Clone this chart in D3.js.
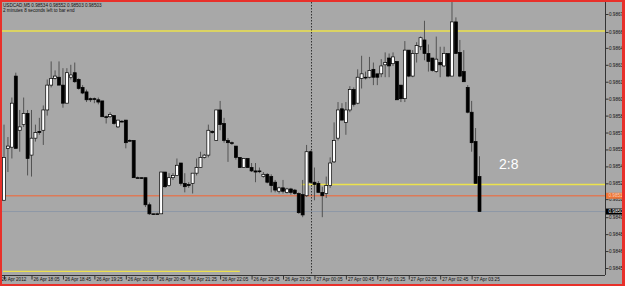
<!DOCTYPE html>
<html>
<head>
<meta charset="utf-8">
<script src="https://cdnjs.cloudflare.com/ajax/libs/d3/7.8.5/d3.min.js"></script>
<style>
  html, body { margin: 0; padding: 0; background: #a8a8a8; }
  svg { display: block; }
  text { font-family: "Liberation Sans", Arial, sans-serif; }
</style>
</head>
<body>
<div id="chart"></div>
<script>
var width = 625;
var height = 286;

// USDCAD M5, one entry per bar starting 26 Apr 2012 17:30
var opens = [
  0.98513, 0.98559, 0.98560, 0.98623, 0.98575, 0.98580, 0.98590, 0.98553, 0.98568, 0.98574,
  0.98575, 0.98593, 0.98615, 0.98621, 0.98622, 0.98615, 0.98599, 0.98622, 0.98626, 0.98620,
  0.98613, 0.98609, 0.98603, 0.98603, 0.98602, 0.98601, 0.98587, 0.98587, 0.98588, 0.98578,
  0.98583, 0.98584, 0.98566, 0.98566, 0.98533, 0.98533, 0.98533, 0.98509, 0.98501, 0.98501,
  0.98501, 0.98538, 0.98526, 0.98533, 0.98535, 0.98546, 0.98528, 0.98526, 0.98528, 0.98537,
  0.98542, 0.98551, 0.98553, 0.98573, 0.98566, 0.98593, 0.98581, 0.98566, 0.98564, 0.98561,
  0.98551, 0.98542, 0.98550, 0.98542, 0.98539, 0.98539, 0.98534, 0.98536, 0.98534, 0.98529,
  0.98521, 0.98524, 0.98520, 0.98523, 0.98522, 0.98519, 0.98518, 0.98517, 0.98556, 0.98529,
  0.98528, 0.98520, 0.98519, 0.98526, 0.98547, 0.98568, 0.98594, 0.98582, 0.98593, 0.98611,
  0.98599, 0.98621, 0.98622, 0.98622, 0.98629, 0.98625, 0.98625, 0.98633, 0.98639, 0.98634,
  0.98636, 0.98615, 0.98603, 0.98646, 0.98623, 0.98643, 0.98649, 0.98655, 0.98643, 0.98639,
  0.98627, 0.98635, 0.98632, 0.98643, 0.98623, 0.98671, 0.98644, 0.98627, 0.98613, 0.98591,
  0.98565, 0.98534
];
var highs = [
  0.98580, 0.98569, 0.98604, 0.98626, 0.98593, 0.98604, 0.98593, 0.98593, 0.98580, 0.98586,
  0.98597, 0.98620, 0.98636, 0.98628, 0.98636, 0.98630, 0.98630, 0.98633, 0.98635, 0.98621,
  0.98615, 0.98611, 0.98604, 0.98604, 0.98604, 0.98601, 0.98588, 0.98591, 0.98588, 0.98584,
  0.98584, 0.98584, 0.98567, 0.98566, 0.98534, 0.98533, 0.98533, 0.98511, 0.98501, 0.98502,
  0.98538, 0.98538, 0.98537, 0.98537, 0.98550, 0.98546, 0.98537, 0.98529, 0.98537, 0.98550,
  0.98556, 0.98554, 0.98580, 0.98575, 0.98593, 0.98601, 0.98586, 0.98568, 0.98565, 0.98561,
  0.98551, 0.98550, 0.98550, 0.98546, 0.98546, 0.98542, 0.98538, 0.98537, 0.98536, 0.98531,
  0.98525, 0.98531, 0.98524, 0.98524, 0.98523, 0.98520, 0.98531, 0.98562, 0.98557, 0.98542,
  0.98530, 0.98525, 0.98534, 0.98551, 0.98582, 0.98600, 0.98599, 0.98600, 0.98614, 0.98613,
  0.98629, 0.98641, 0.98627, 0.98640, 0.98635, 0.98625, 0.98638, 0.98644, 0.98643, 0.98644,
  0.98636, 0.98615, 0.98654, 0.98646, 0.98646, 0.98653, 0.98658, 0.98672, 0.98651, 0.98639,
  0.98658, 0.98649, 0.98649, 0.98643, 0.98692, 0.98675, 0.98655, 0.98646, 0.98615, 0.98601,
  0.98577, 0.98552
];
var lows = [
  0.98513, 0.98538, 0.98550, 0.98559, 0.98556, 0.98578, 0.98535, 0.98534, 0.98565, 0.98571,
  0.98562, 0.98588, 0.98613, 0.98620, 0.98615, 0.98595, 0.98599, 0.98620, 0.98617, 0.98611,
  0.98607, 0.98600, 0.98600, 0.98599, 0.98598, 0.98587, 0.98581, 0.98586, 0.98580, 0.98577,
  0.98582, 0.98559, 0.98565, 0.98533, 0.98533, 0.98532, 0.98507, 0.98500, 0.98500, 0.98501,
  0.98501, 0.98524, 0.98525, 0.98531, 0.98535, 0.98526, 0.98520, 0.98524, 0.98519, 0.98535,
  0.98542, 0.98550, 0.98551, 0.98572, 0.98566, 0.98575, 0.98564, 0.98547, 0.98562, 0.98549,
  0.98542, 0.98542, 0.98542, 0.98538, 0.98529, 0.98537, 0.98533, 0.98528, 0.98520, 0.98520,
  0.98519, 0.98519, 0.98519, 0.98518, 0.98518, 0.98501, 0.98498, 0.98516, 0.98528, 0.98513,
  0.98520, 0.98498, 0.98515, 0.98524, 0.98546, 0.98566, 0.98584, 0.98571, 0.98591, 0.98596,
  0.98598, 0.98612, 0.98620, 0.98621, 0.98615, 0.98615, 0.98622, 0.98622, 0.98622, 0.98632,
  0.98602, 0.98600, 0.98600, 0.98622, 0.98622, 0.98635, 0.98646, 0.98637, 0.98627, 0.98627,
  0.98626, 0.98622, 0.98631, 0.98622, 0.98623, 0.98643, 0.98622, 0.98618, 0.98590, 0.98556,
  0.98528, 0.98503
];
var closes = [
  0.98551, 0.98561, 0.98599, 0.98559, 0.98578, 0.98590, 0.98550, 0.98568, 0.98573, 0.98573,
  0.98593, 0.98615, 0.98621, 0.98623, 0.98615, 0.98599, 0.98626, 0.98624, 0.98618, 0.98612,
  0.98608, 0.98602, 0.98602, 0.98603, 0.98600, 0.98587, 0.98587, 0.98589, 0.98581, 0.98584,
  0.98583, 0.98564, 0.98566, 0.98533, 0.98533, 0.98533, 0.98509, 0.98501, 0.98501, 0.98501,
  0.98538, 0.98525, 0.98533, 0.98535, 0.98544, 0.98528, 0.98525, 0.98527, 0.98537, 0.98542,
  0.98551, 0.98553, 0.98575, 0.98574, 0.98593, 0.98580, 0.98566, 0.98564, 0.98564, 0.98551,
  0.98542, 0.98550, 0.98542, 0.98539, 0.98538, 0.98539, 0.98536, 0.98529, 0.98526, 0.98522,
  0.98524, 0.98521, 0.98523, 0.98520, 0.98519, 0.98502, 0.98500, 0.98556, 0.98529, 0.98527,
  0.98520, 0.98517, 0.98526, 0.98546, 0.98566, 0.98593, 0.98584, 0.98593, 0.98611, 0.98598,
  0.98622, 0.98625, 0.98622, 0.98628, 0.98622, 0.98622, 0.98632, 0.98635, 0.98632, 0.98640,
  0.98602, 0.98603, 0.98646, 0.98623, 0.98643, 0.98650, 0.98657, 0.98643, 0.98636, 0.98628,
  0.98638, 0.98633, 0.98643, 0.98623, 0.98671, 0.98643, 0.98623, 0.98618, 0.98591, 0.98564,
  0.98528, 0.98503
];

var yTicks = [0.98678, 0.98662, 0.98648, 0.98633, 0.98618, 0.98603, 0.98588, 0.98573,
              0.98558, 0.98543, 0.98528, 0.98514, 0.98498, 0.98483, 0.98468, 0.98453];
var xTickBars = [0, 7, 15, 23, 31, 39, 47, 55, 63, 71, 79, 87, 95, 103, 111, 119];
var xTickLabels = ["26 Apr 2012", "26 Apr 18:05", "26 Apr 18:45", "26 Apr 19:25", "26 Apr 20:05",
                   "26 Apr 20:45", "26 Apr 21:25", "26 Apr 22:05", "26 Apr 22:45", "26 Apr 23:25",
                   "27 Apr 00:05", "27 Apr 00:45", "27 Apr 01:25", "27 Apr 02:05", "27 Apr 02:45",
                   "27 Apr 03:25"];

// drawn objects: horizontal levels, trend lines, day separator, price labels
var hLevels = [0.98663, 0.98517];
var hLevelColors = ["#ece24c", "#dc7a58"];
var trendFrom = [76, 0];
var trendTo = [121, 60];
var trendPrice = [0.98527, 0.98450];
var separatorBar = 78;
var bidPrice = 0.98503;

var plot = { left: 2, top: 2, right: 605, bottom: 275 };

var svg = d3.select("#chart")
  .append("svg")
  .attr("width", width)
  .attr("height", height);

svg.append("rect")
  .attr("width", width)
  .attr("height", height)
  .attr("fill", "#a8a8a8");

var xScale = d3.scaleLinear()
  .domain([0, 121])
  .range([4, 479.5]);

var yScale = d3.scaleLinear()
  .domain([0.98453, 0.98678])
  .range([268, 14]);

svg.append("clipPath")
  .attr("id", "plotclip")
  .append("rect")
  .attr("x", plot.left)
  .attr("y", plot.top)
  .attr("width", plot.right - plot.left)
  .attr("height", plot.bottom - plot.top);

var chartGroup = svg.append("g").attr("clip-path", "url(#plotclip)");

// lines behind the bars
chartGroup.selectAll(".hlevel")
  .data(hLevels)
  .enter().append("line")
  .attr("x1", plot.left)
  .attr("x2", plot.right)
  .attr("y1", d => yScale(d))
  .attr("y2", d => yScale(d))
  .attr("stroke", (d, i) => hLevelColors[i])
  .attr("stroke-width", 1.4);

chartGroup.append("line")
  .attr("x1", plot.left)
  .attr("x2", plot.right)
  .attr("y1", yScale(bidPrice))
  .attr("y2", yScale(bidPrice))
  .attr("stroke", "#8d98a6")
  .attr("stroke-width", 1);

for (var t = 0; t < trendPrice.length; t++) {
  chartGroup.append("line")
    .attr("x1", xScale(trendFrom[t]) - 1)
    .attr("x2", t == 0 ? plot.right : xScale(trendTo[t]))
    .attr("y1", yScale(trendPrice[t]))
    .attr("y2", yScale(trendPrice[t]))
    .attr("stroke", "#ece24c")
    .attr("stroke-width", 1.4);
}

chartGroup.append("line")
  .attr("x1", Math.round(xScale(separatorBar)) + 0.5)
  .attr("x2", Math.round(xScale(separatorBar)) + 0.5)
  .attr("y1", plot.top)
  .attr("y2", plot.bottom)
  .attr("stroke", "#333")
  .attr("stroke-dasharray", "1.5,1.5");

// candles
for (var i = 0; i < opens.length; i++) {
  var cx = xScale(i);
  var up = closes[i] >= opens[i];
  var bodyTop = yScale(Math.max(opens[i], closes[i]));
  var bodyBot = yScale(Math.min(opens[i], closes[i]));

  chartGroup.append("line")
    .attr("x1", cx)
    .attr("x2", cx)
    .attr("y1", yScale(highs[i]))
    .attr("y2", yScale(lows[i]))
    .attr("stroke", "#4a4a4a")
    .attr("stroke-width", 0.9);

  chartGroup.append("rect")
    .attr("x", cx - 1.5)
    .attr("y", bodyTop)
    .attr("width", 3)
    .attr("height", Math.max(bodyBot - bodyTop, 0.8))
    .attr("fill", up && bodyBot - bodyTop > 1.5 ? "#fff" : "#000")
    .attr("stroke", "#000")
    .attr("stroke-width", 0.7);
}

// frame
svg.append("line")
  .attr("x1", plot.right + 0.5).attr("x2", plot.right + 0.5)
  .attr("y1", plot.top).attr("y2", plot.bottom)
  .attr("stroke", "#333");
svg.append("line")
  .attr("x1", plot.left).attr("x2", plot.right)
  .attr("y1", plot.bottom + 0.5).attr("y2", plot.bottom + 0.5)
  .attr("stroke", "#333");

var yAxis = d3.axisRight(yScale)
  .tickValues(yTicks)
  .tickSize(3)
  .tickFormat(d3.format(".5f"));

var yAxisG = svg.append("g")
  .attr("transform", `translate(${plot.right + 0.5}, 0)`)
  .call(yAxis);
yAxisG.select(".domain").remove();
yAxisG.selectAll("line").attr("stroke", "#333");
yAxisG.selectAll("text")
  .attr("x", 3.5)
  .style("font-size", "4.6px")
  .style("font-family", "Liberation Sans, Arial, sans-serif")
  .attr("fill", "#111");

var xAxis = d3.axisBottom(xScale)
  .tickValues(xTickBars)
  .tickSize(4)
  .tickFormat((d, i) => xTickLabels[i]);

var xAxisG = svg.append("g")
  .attr("transform", `translate(0, ${plot.bottom + 0.5})`)
  .call(xAxis);
xAxisG.select(".domain").remove();
xAxisG.selectAll("line").attr("stroke", "#333");
xAxisG.selectAll("text")
  .attr("text-anchor", "start")
  .attr("x", (d, i) => i == 0 ? -3 : 1.5)
  .attr("y", 2)
  .attr("dy", "0.75em")
  .style("font-size", "4.6px")
  .style("font-family", "Liberation Sans, Arial, sans-serif")
  .attr("fill", "#111");

// price boxes on the scale
var boxes = [
  { price: hLevels[1], fill: "#ee7436", color: "#f6d0b8" },
  { price: bidPrice, fill: "#000", color: "#fff" }
];
boxes.forEach(function(b) {
  svg.append("rect")
    .attr("x", plot.right + 1)
    .attr("y", yScale(b.price) - 3)
    .attr("width", 17)
    .attr("height", 6)
    .attr("fill", b.fill);
  svg.append("text")
    .attr("x", plot.right + 3.5)
    .attr("y", yScale(b.price))
    .attr("dy", "0.35em")
    .style("font-size", "4.6px")
    .attr("fill", b.color)
    .text(d3.format(".5f")(b.price));
});

// header text
svg.append("text")
  .attr("x", 3)
  .attr("y", 7)
  .style("font-size", "4.6px")
  .attr("fill", "#111")
  .text("USDCAD,M5  " + d3.format(".5f")(opens[121]) + " " + d3.format(".5f")(highs[121]) + " " +
        d3.format(".5f")(lows[121]) + " " + d3.format(".5f")(closes[121]));
svg.append("text")
  .attr("x", 3)
  .attr("y", 11.5)
  .style("font-size", "4.6px")
  .attr("fill", "#111")
  .text("2 minutes 8 seconds left to bar end");

svg.append("text")
  .attr("x", 499)
  .attr("y", 169)
  .style("font-size", "14px")
  .attr("fill", "#fff")
  .text("2:8");

// red window border
svg.append("rect").attr("x", 0).attr("y", 0).attr("width", 2).attr("height", height).attr("fill", "#e8302a");
svg.append("rect").attr("x", 0).attr("y", 0).attr("width", width).attr("height", 2).attr("fill", "#e8302a");
svg.append("rect").attr("x", 622).attr("y", 0).attr("width", 3).attr("height", height).attr("fill", "#e8302a");
svg.append("rect").attr("x", 0).attr("y", 284).attr("width", width).attr("height", 2).attr("fill", "#e8302a");
</script>
</body>
</html>
